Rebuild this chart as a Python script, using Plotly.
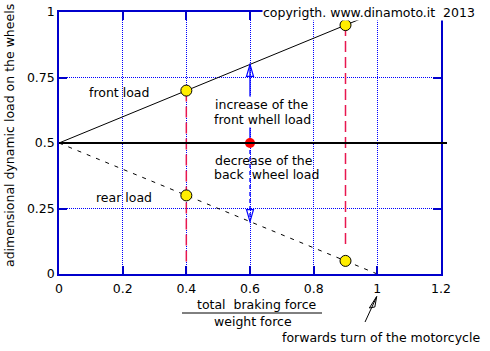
import plotly.graph_objects as go

# ---------------- data ----------------
X_TICKS = [0, 0.2, 0.4, 0.6, 0.8, 1.0, 1.2]
X_TICKTEXT = ["0", "0.2", "0.4", "0.6", "0.8", "1", "1.2"]
Y_TICKS = [0, 0.25, 0.5, 0.75, 1.0]
Y_TICKTEXT = ["0", "0.25", "0.5", "0.75", "1"]

BASE_LOAD = 0.5
FRONT_X = [0.0, 0.95]
FRONT_Y = [0.5, 0.975]
REAR_X = [0.0, 1.0]
REAR_Y = [0.5, 0.0]

POINT_X = [0.4, 0.4, 0.9, 0.9]
POINT_Y = [0.7, 0.3, 0.95, 0.05]
RED_X = [0.6]
RED_Y = [0.5]

DROP_X = [0.4, 0.9]          # red dashed verticals
DROP_TOP = [0.7, 0.95]
DROP_BOTTOM = [0.0, 0.1]

ARROW_X = 0.6
ARROW_TOP = 0.8
ARROW_BOTTOM = 0.2
TURN_X = 1.0

XMIN, XMAX = 0, 1.2
YMIN, YMAX = 0, 1

# ---------------- style / layout ----------------
FONT = "DejaVu Sans"
BLUE = "#0000ff"
FRAME = "#0000cc"
RED = "#e8174f"
ML, MR, MT, MB = 59, 49, 12, 77
W, H = 490, 351
PW, PH = W - ML - MR, H - MT - MB


def px_to_paper(dx, dy):
    """pixel offsets (right, down) -> paper units"""
    return dx / PW, -dy / PH


fig = go.Figure()

# red dashed verticals
for dx, dt, db in zip(DROP_X, DROP_TOP, DROP_BOTTOM):
    fig.add_trace(go.Scatter(x=[dx, dx], y=[dt, db], mode="lines",
                             line=dict(color=RED, width=1.5, dash="11px,5px"),
                             hoverinfo="skip", showlegend=False))

# front and rear load lines
fig.add_trace(go.Scatter(x=FRONT_X, y=FRONT_Y, mode="lines",
                         line=dict(color="black", width=1), showlegend=False))
fig.add_trace(go.Scatter(x=REAR_X, y=REAR_Y, mode="lines",
                         line=dict(color="black", width=1, dash="4px,6px"),
                         showlegend=False))

# blue arrows
fig.add_trace(go.Scatter(x=[ARROW_X, ARROW_X], y=[BASE_LOAD, ARROW_TOP], mode="lines",
                         line=dict(color=BLUE, width=1.3), showlegend=False))
fig.add_trace(go.Scatter(x=[ARROW_X, ARROW_X], y=[BASE_LOAD, ARROW_BOTTOM], mode="lines",
                         line=dict(color=BLUE, width=1.3, dash="4px,3px"), showlegend=False))

# points
fig.add_trace(go.Scatter(x=POINT_X, y=POINT_Y, mode="markers",
                         marker=dict(size=11, color="#ffee00", line=dict(color="black", width=1)),
                         showlegend=False))
fig.add_trace(go.Scatter(x=RED_X, y=RED_Y, mode="markers",
                         marker=dict(size=10, color="#ff0000", line=dict(width=0)),
                         showlegend=False))

shapes = []
# horizontal base line (slightly over the right frame)
yb = (BASE_LOAD - YMIN) / (YMAX - YMIN)
shapes.append(dict(type="line", xref="paper", yref="paper", x0=0, x1=1 + 6 / PW,
                   y0=yb, y1=yb, line=dict(color="black", width=2)))
# open arrow heads (pixel sized)
shapes.append(dict(type="path", xref="x", yref="y", xsizemode="pixel", ysizemode="pixel",
                   xanchor=ARROW_X, yanchor=ARROW_TOP,
                   path="M0,0 L-3.5,-12 L3.5,-12 Z", line=dict(color=BLUE, width=1.2),
                   fillcolor="rgba(0,0,0,0)"))
shapes.append(dict(type="path", xref="x", yref="y", xsizemode="pixel", ysizemode="pixel",
                   xanchor=ARROW_X, yanchor=ARROW_BOTTOM,
                   path="M0,0 L-3.5,12 L3.5,12 Z", line=dict(color=BLUE, width=1.2),
                   fillcolor="rgba(0,0,0,0)"))
# fraction bar of the x title
shapes.append(dict(type="line", xref="paper", yref="paper",
                   x0=(182 - ML) / PW, x1=(322 - ML) / PW,
                   y0=px_to_paper(0, 39)[1], y1=px_to_paper(0, 39)[1],
                   line=dict(color="black", width=1)))
# arrow pointing to x=1 (forwards turn)
tx = (TURN_X - XMIN) / (XMAX - XMIN)


def P(dx, dy):
    a, b = px_to_paper(dx, dy)
    return f"{tx + a:.5f},{b:.5f}"


turn_path = (f"M{P(-12.3, 48)} L{P(-0.8, 23)} "
             f"M{P(-0.6, 22.4)} L{P(-8, 34)} L{P(-2.5, 33)} Z")
shapes.append(dict(type="path", xref="paper", yref="paper", path=turn_path,
                   line=dict(color="black", width=1), fillcolor="rgba(0,0,0,0)"))

f12 = dict(family=FONT, size=12.5, color="black")
ftick = dict(family=FONT, size=12.5, color="black")


def ann(text, x, y, ref="x", **kw):
    d = dict(text=text, x=x, y=y, xref=ref, yref=("y" if ref == "x" else "paper"),
             xanchor="center", yanchor="middle", showarrow=False, font=f12)
    d.update(kw)
    return d


def pxx(px):
    return (px - ML) / PW


def pxy(py):
    return (MT + PH - py) / PH


annotations = [
    ann("front load", 0.189, 0.693),
    ann("rear load", 0.203, 0.293),
    ann("increase of the", 0.639, 0.648, bgcolor="white", borderpad=0),
    ann("front whell load", 0.638, 0.588, bgcolor="white", borderpad=0),
    ann("decrease of the", 0.644, 0.432),
    ann("back&nbsp; wheel load", 0.653, 0.378),
    ann("copyrigth. www.dinamoto.it&nbsp; 2013", pxx(476), pxy(12), ref="paper",
        xanchor="right", bgcolor="white", borderpad=0),
    ann("forwards turn of the motorcycle", pxx(380.5), pxy(337), ref="paper"),
    ann("total&nbsp; braking force", pxx(256.5), pxy(304), ref="paper"),
    ann("weight force", pxx(253), pxy(321.7), ref="paper"),
    ann("adimensional dynamic load on the wheels", pxx(9), pxy(136), ref="paper", textangle=-90),
]

axis_common = dict(showgrid=True, gridcolor=BLUE, griddash="1px,1px", gridwidth=1,
                   showline=True, linecolor=FRAME, linewidth=1.5, mirror="ticks",
                   ticks="inside", ticklen=8, tickcolor=FRAME, tickwidth=1.5,
                   zeroline=False, tickfont=ftick, automargin=False)

fig.update_layout(
    width=W, height=H,
    margin=dict(l=ML, r=MR, t=MT, b=MB),
    paper_bgcolor="white", plot_bgcolor="white",
    showlegend=False,
    xaxis=dict(range=[XMIN, XMAX], tickvals=X_TICKS, ticktext=X_TICKTEXT,
               ticklabelstandoff=2, **axis_common),
    yaxis=dict(range=[YMIN, YMAX], tickvals=Y_TICKS, ticktext=Y_TICKTEXT, **axis_common),
    shapes=shapes,
    annotations=annotations,
)

fig.write_html("out.html")
